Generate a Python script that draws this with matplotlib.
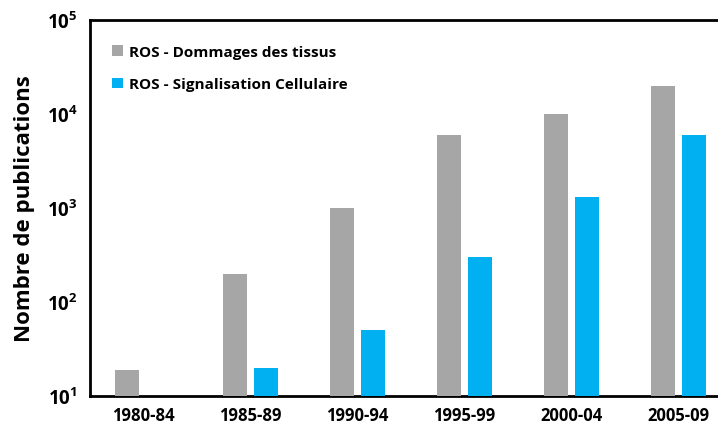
import matplotlib.pyplot as plt
import numpy as np

# data (log scale)
periods = ["1980-84", "1985-89", "1990-94", "1995-99", "2000-04", "2005-09"]
dommages = [19, 200, 1000, 6000, 10000, 20000]
signalisation = [np.nan, 20, 50, 300, 1300, 6000]

GRAY = "#a6a6a6"
CYAN = "#00b0f0"

plt.rcParams["font.family"] = ["Open Sans", "DejaVu Sans"]
plt.rcParams["font.weight"] = "bold"
plt.rcParams["mathtext.fontset"] = "custom"
plt.rcParams["mathtext.rm"] = "Open Sans:bold"
plt.rcParams["mathtext.bf"] = "Open Sans:bold"

fig = plt.figure(figsize=(7.18, 4.27), dpi=100)
ax = fig.add_axes([90 / 718, 30 / 427, 1 - 90 / 718, 376 / 427])

x = np.arange(len(periods))
w = 0.224
off = 0.145
ax.bar(x - off, dommages, w, color=GRAY, label="ROS - Dommages des tissus", zorder=3)
ax.bar(x + off, signalisation, w, color=CYAN, label="ROS - Signalisation Cellulaire", zorder=3)

ax.set_yscale("log")
ax.set_ylim(10, 1e5)
ax.set_xlim(-0.495, 5.37)
ax.set_yticks([1e1, 1e2, 1e3, 1e4, 1e5])
ax.set_yticklabels([rf"$\mathbf{{10^{{{n}}}}}$" for n in range(1, 6)], fontsize=13.5)
ax.minorticks_off()
ax.set_xticks(x)
ax.set_xticklabels(periods, fontsize=12, fontweight="bold")
ax.tick_params(axis="both", length=0)
ax.tick_params(axis="y", pad=9)
ax.tick_params(axis="x", pad=7)

for s in ["left", "top", "bottom"]:
    ax.spines[s].set_linewidth(2)
ax.spines["right"].set_visible(False)

ax.set_ylabel("Nombre de publications", fontsize=16, fontweight="bold", labelpad=8)

ax.legend(loc="upper left", bbox_to_anchor=(0.025, 0.95), frameon=False,
          fontsize=11, handlelength=0.7, handleheight=0.7, handletextpad=0.4,
          labelspacing=1.2, borderaxespad=0)

fig.savefig("out.png", dpi=100)
